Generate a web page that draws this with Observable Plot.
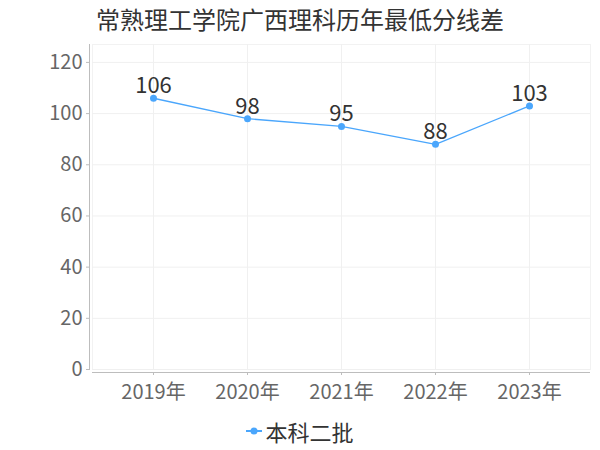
<!DOCTYPE html>
<html>
<head>
<meta charset="utf-8">
<script src="https://cdn.jsdelivr.net/npm/d3@7"></script>
<script src="https://cdn.jsdelivr.net/npm/@observablehq/plot@0.6"></script>
<style>
  html, body { margin: 0; padding: 0; background: #fff; }
  body { width: 600px; height: 450px; overflow: hidden; font-family: "Noto Sans CJK SC", "Noto Sans", sans-serif; }
  #title { height: 38px; line-height: 38px; text-align: center; font-size: 24px; color: #333; }
  #legend { height: 42px; display: flex; justify-content: center; align-items: center; font-size: 22px; color: #333; }
  #legend svg { margin-right: 3px; }
</style>
</head>
<body>
<div id="title"></div>
<div id="chart"></div>
<div id="legend"></div>
<script>
const titleText = "常熟理工学院广西理科历年最低分线差";
const years = ["2019年", "2020年", "2021年", "2022年", "2023年"];
const seriesName = "本科二批";
const values = [106, 98, 95, 88, 103];
const yTicks = [0, 20, 40, 60, 80, 100, 120];
const lineColor = "#4aa6fc";

const data = years.map((y, i) => ({year: y, value: values[i]}));

document.getElementById("title").textContent = titleText;

const font = "Noto Sans CJK SC";
const plot = Plot.plot({
  width: 600,
  height: 372,
  marginLeft: 92,
  marginRight: 10,
  marginTop: 6,
  marginBottom: 41,
  style: {fontFamily: font, background: "#fff"},
  x: {type: "point", domain: years, padding: 0.635, label: null},
  y: {domain: [0, 127], label: null},
  marks: [
    Plot.frame({stroke: "#f2f2f2"}),
    Plot.gridY(yTicks, {stroke: "#f0f0f0", strokeOpacity: 1}),
    Plot.gridX(years, {stroke: "#f0f0f0", strokeOpacity: 1}),
    Plot.ruleY([0], {dy: 3, stroke: "#bdbdbd"}),
    Plot.frame({anchor: "left", dx: -3, stroke: "#bdbdbd"}),
    Plot.axisY(yTicks, {anchor: "left", tickSize: 3, dx: -3, tickPadding: 4, fontSize: 20, fill: "#666", stroke: "#bdbdbd", label: null}),
    Plot.axisX(years, {anchor: "bottom", tickSize: 3, dy: 3, tickPadding: 9, fontSize: 20, fill: "#666", stroke: "#bdbdbd", label: null}),
    Plot.line(data, {x: "year", y: "value", stroke: lineColor, strokeWidth: 1.3}),
    Plot.dot(data, {x: "year", y: "value", r: 3.5, fill: lineColor, stroke: "none"}),
    Plot.text(data, {x: "year", y: "value", text: d => String(d.value), dy: -12, fontSize: 22, fill: "#333"})
  ]
});
document.getElementById("chart").appendChild(plot);

const leg = document.getElementById("legend");
leg.innerHTML = `<svg width="16" height="10"><line x1="0" y1="5" x2="16" y2="5" stroke="${lineColor}" stroke-width="2"/><circle cx="8" cy="5" r="3.5" fill="${lineColor}"/></svg><span>${seriesName}</span>`;
</script>
</body>
</html>
